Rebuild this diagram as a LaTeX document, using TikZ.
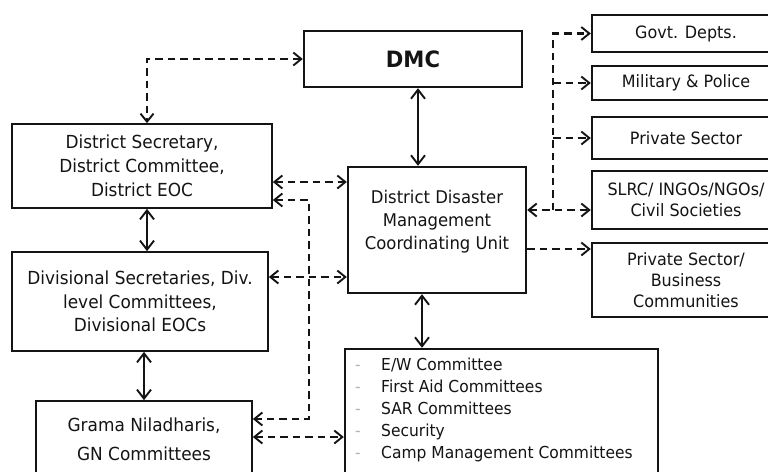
\documentclass[tikz,border=0pt]{standalone}
\usepackage{fontspec}
\setmainfont{DejaVu Sans}[FakeStretch=0.94]
\usetikzlibrary{arrows.meta}
\definecolor{ink}{HTML}{141414}
\begin{document}
\begin{tikzpicture}[x=1pt,y=-1pt,
  every node/.style={text=ink},
  boxthin/.style={draw=ink, line width=1.7pt, inner sep=0pt, align=center},
  boxthick/.style={boxthin, line width=2.4pt},
  txt/.style={inner sep=0pt, align=center},
  tip/.style={arrows={#1}},
  dsh/.style={draw=ink, line width=2.2pt, dash pattern=on 7.5pt off 5pt,
    arrows={Straight Barb[length=8pt,width=13pt,line width=1.9pt]-Straight Barb[length=8pt,width=13pt,line width=1.9pt]}},
  sol/.style={draw=ink, line width=1.9pt,
    {Straight Barb[length=9pt,width=14pt,line width=1.9pt]}-{Straight Barb[length=9pt,width=14pt,line width=1.9pt]}},
  oneway/.style={dsh, arrows={-Straight Barb[length=8pt,width=13pt,line width=1.9pt]}}
]
\useasboundingbox[fill=white] (0,0) rectangle (768,471);

% left column
\node[boxthick, minimum width=218pt, minimum height=56pt,
  font=\fontsize{22.5}{26}\selectfont\bfseries] (dmc) at (413,59) {DMC};
\node[boxthin, minimum width=260pt, minimum height=84pt,
  font=\fontsize{18}{24}\selectfont] (ds) at (142,166)
  {District Secretary,\\District Committee,\\District EOC};
\node[boxthin, minimum width=256pt, minimum height=99pt,
  font=\fontsize{18}{23.5}\selectfont] (div) at (140,301.5)
  {Divisional Secretaries, Div.\\level Committees,\\Divisional EOCs};
\node[boxthin, minimum width=216pt, minimum height=84pt] (gn) at (144,443) {};
\node[txt, font=\fontsize{18}{29}\selectfont] (gntext) at (144,439)
  {Grama Niladharis,\\GN Committees};

% centre column
\node[boxthick, minimum width=178pt, minimum height=126pt] (ddm) at (437,230) {};
\node[txt, font=\fontsize{17.5}{23}\selectfont] (ddmtext) at (437,222)
  {District Disaster\\Management\\Coordinating Unit};
\node[boxthick, minimum width=313pt, minimum height=141pt] (com) at (501.5,419.5) {};
\node[txt, anchor=west, align=left, font=\fontsize{16.5}{22}\selectfont] (comtext) at (355,410)
  {\makebox[26pt][l]{\textcolor{gray!60}{-}}E/W Committee\\
   \makebox[26pt][l]{\textcolor{gray!60}{-}}First Aid Committees\\
   \makebox[26pt][l]{\textcolor{gray!60}{-}}SAR Committees\\
   \makebox[26pt][l]{\textcolor{gray!60}{-}}Security\\
   \makebox[26pt][l]{\textcolor{gray!60}{-}}Camp Management Committees};

% right column
\begin{scope}[every node/.append style={font=\fontsize{17}{21}\selectfont}]
\node[boxthick, minimum width=188pt, minimum height=37pt] (gov) at (686,33.5) {Govt. Depts.};
\node[boxthick, minimum width=188pt, minimum height=34pt] (mil) at (686,83) {Military \& Police};
\node[boxthick, minimum width=188pt, minimum height=42pt] (prv) at (686,138) {Private Sector};
\node[boxthick, minimum width=188pt, minimum height=58pt] (slrc) at (686,200) {SLRC/ INGOs/NGOs/\\Civil Societies};
\node[boxthick, minimum width=188pt, minimum height=74pt] (biz) at (686,280) {Private Sector/\\Business\\Communities};
\end{scope}

% routing points
\coordinate (yA) at (0,182);
\coordinate (lb1) at (309,200);
\coordinate (lb2) at (309,419);
\coordinate (yC) at (0,277);
\coordinate (yD) at (0,437);
\coordinate (rb) at (553,210);
\coordinate (yE) at (0,249);

% solid links
\draw[sol] ([xshift=5pt]dmc.south) -- ([xshift=5pt]dmc.south |- ddm.north);
\draw[sol] ([xshift=5pt]ds.south) -- ([xshift=5pt]ds.south |- div.north);
\draw[sol] (gn.north |- div.south) -- (gn.north);
\draw[sol] ([xshift=-15pt]ddm.south) -- ([xshift=-15pt]ddm.south |- com.north);

% dashed links, left side
\draw[dsh] (dmc.west) -| ([xshift=5pt]ds.north);
\draw[dsh] (ds.east |- yA) -- (ddm.west |- yA);
\draw[dsh] (ds.east |- lb1) -- (lb1) -- (lb2) -- (gn.east |- lb2);
\draw[dsh] (div.east |- yC) -- (ddm.west |- yC);
\draw[dsh] (gn.east |- yD) -- (com.west |- yD);

% dashed links, right side
\draw[dsh] (ddm.east |- rb) -- (slrc.west |- rb);
\draw[oneway] (rb) |- (gov.west);
\draw[oneway] (rb |- mil.west) -- (mil.west);
\draw[oneway] (rb |- prv.west) -- (prv.west);
\draw[oneway] (ddm.east |- yE) -- (biz.west |- yE);
\end{tikzpicture}
\end{document}
